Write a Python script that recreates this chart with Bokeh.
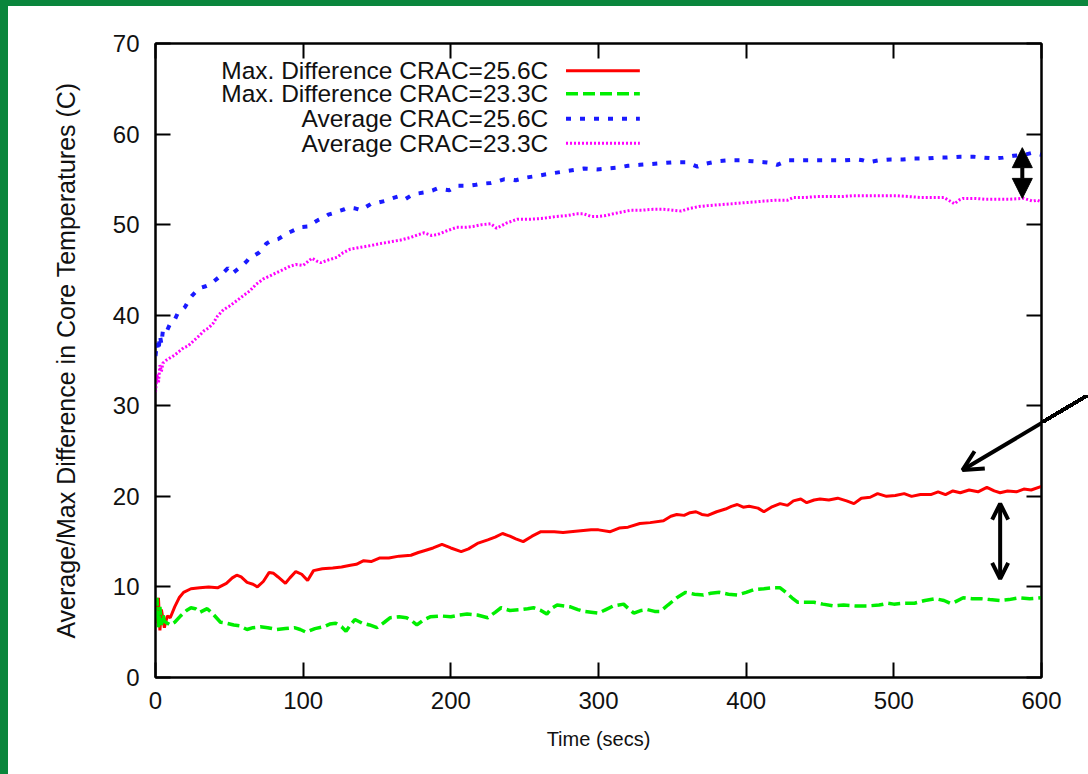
from bokeh.plotting import figure
from bokeh.models import (Range1d, FixedTicker, LinearAxis, Arrow, OpenHead, NormalHead,
                          CustomJSTickFormatter, InlineStyleSheet)
from bokeh.core.properties import value
from bokeh.embed import file_html
from bokeh.resources import INLINE

# ---------------- data ----------------
red_t = [0, 1, 2, 3, 4, 5, 6, 8, 10, 13, 16, 19, 24, 30, 36, 42, 48, 52, 55, 58, 62, 66, 69, 73, 77, 80, 83, 88, 91, 95, 99,
         103, 107, 113, 120, 126, 132, 136, 141, 146, 152, 158, 165, 173, 178, 182, 188, 194, 200, 207, 212, 218, 225, 230,
         235, 240, 244, 249, 255, 261, 270, 276, 281, 288, 295, 300, 308, 314, 320, 328, 335, 344, 349, 353, 358, 362, 366,
         370, 374, 380, 386, 390, 394, 398, 402, 408, 412, 417, 423, 428, 432, 437, 441, 446, 450, 456, 462, 468, 473, 478,
         484, 489, 495, 501, 507, 512, 518, 525, 530, 535, 540, 545, 551, 557, 563, 568, 572, 577, 583, 588, 593, 600]
red_v = [8.5, 6.0, 8.8, 5.2, 7.5, 6.5, 5.5, 6.8, 6.6, 7.8, 8.8, 9.4, 9.8, 9.9, 10.0, 9.9, 10.4, 11.0, 11.3, 11.1, 10.5, 10.3,
         10.0, 10.6, 11.6, 11.5, 11.1, 10.4, 11.0, 11.7, 11.4, 10.7, 11.8, 12.0, 12.1, 12.2, 12.4, 12.5, 12.9, 12.8, 13.2,
         13.2, 13.4, 13.5, 13.8, 14.0, 14.3, 14.7, 14.3, 13.9, 14.2, 14.8, 15.2, 15.5, 15.9, 15.6, 15.3, 15.0, 15.6, 16.1,
         16.1, 16.0, 16.1, 16.2, 16.3, 16.3, 16.1, 16.5, 16.6, 17.0, 17.1, 17.3, 17.8, 18.0, 17.9, 18.2, 18.3, 18.0, 17.9,
         18.3, 18.6, 18.9, 19.1, 18.8, 18.9, 18.7, 18.3, 18.8, 19.2, 19.0, 19.5, 19.7, 19.3, 19.6, 19.7, 19.6, 19.8, 19.5,
         19.2, 19.8, 19.9, 20.3, 20.0, 20.1, 20.3, 20.0, 20.2, 20.2, 20.5, 20.2, 20.6, 20.4, 20.7, 20.5, 21.0, 20.6, 20.4,
         20.6, 20.5, 20.8, 20.7, 21.1]

green_t = [0, 1, 2, 3, 4, 5, 6, 8, 10, 13, 17, 21, 24, 27, 30, 35, 39, 44, 48, 53, 57, 62, 66, 71, 76, 82, 88, 94, 98, 102,
           108, 114, 118, 122, 126, 129, 132, 135, 140, 145, 150, 155, 159, 165, 170, 174, 177, 181, 186, 193, 200, 206,
           211, 218, 225, 230, 234, 240, 247, 252, 256, 261, 265, 268, 272, 277, 281, 286, 290, 295, 300, 305, 310, 317,
           321, 324, 329, 333, 338, 342, 347, 353, 359, 365, 371, 376, 382, 388, 394, 400, 405, 412, 418, 423, 427, 431,
           435, 441, 446, 452, 459, 466, 474, 482, 490, 496, 500, 507, 514, 521, 528, 534, 538, 541, 547, 553, 559, 565,
           572, 578, 585, 592, 600]
green_v = [6.5, 8.8, 5.5, 7.8, 5.8, 7.0, 6.2, 6.0, 5.8, 6.1, 6.8, 7.4, 7.7, 7.6, 7.2, 7.6, 7.0, 6.1, 6.0, 5.8, 5.7, 5.3, 5.5,
           5.6, 5.5, 5.3, 5.4, 5.5, 5.3, 5.0, 5.4, 5.6, 5.9, 6.0, 5.6, 5.1, 5.8, 6.4, 6.0, 5.8, 5.5, 6.1, 6.6, 6.7, 6.6,
           6.2, 5.8, 6.3, 6.7, 6.8, 6.7, 6.9, 7.0, 6.9, 6.6, 7.2, 7.7, 7.4, 7.5, 7.6, 7.7, 7.4, 7.0, 7.6, 8.0, 7.9, 7.8,
           7.5, 7.3, 7.2, 7.1, 7.5, 7.9, 8.1, 7.5, 7.1, 7.4, 7.5, 7.3, 7.3, 8.0, 8.8, 9.4, 9.2, 9.1, 9.3, 9.4, 9.2, 9.1,
           9.4, 9.7, 9.8, 9.9, 9.9, 9.4, 8.8, 8.3, 8.3, 8.3, 8.1, 7.9, 8.0, 7.9, 7.9, 8.0, 8.2, 8.1, 8.2, 8.2, 8.5, 8.7,
           8.5, 8.2, 8.3, 8.8, 8.7, 8.7, 8.6, 8.5, 8.6, 8.8, 8.7, 8.8]

blue_t = [0, 1, 2, 3, 4, 5, 7, 10, 13, 15, 18, 20, 23, 25, 28, 30, 34, 37, 40, 43, 46, 49, 52, 55, 59, 62, 64, 67, 70, 73,
          75, 78, 83, 86, 90, 94, 97, 104, 107, 110, 114, 117, 121, 124, 128, 131, 135, 139, 143, 146, 150, 155, 160, 164,
          169, 173, 176, 184, 188, 191, 195, 199, 204, 209, 213, 217, 220, 227, 232, 236, 240, 244, 251, 259, 266, 274,
          282, 290, 299, 306, 313, 320, 328, 336, 344, 352, 360, 364, 367, 372, 381, 388, 396, 404, 412, 417, 421, 428,
          437, 445, 450, 458, 466, 475, 479, 483, 490, 498, 506, 514, 522, 529, 536, 545, 554, 561, 568, 574, 581, 588,
          593, 597, 600]
blue_v = [35.5, 37.0, 36.0, 37.8, 36.8, 38.3, 38.0, 39.1, 39.5, 40.2, 40.6, 40.9, 41.8, 42.2, 42.7, 43.0, 43.2, 43.4, 43.8,
          44.2, 44.7, 45.2, 44.6, 45.0, 45.5, 46.0, 46.4, 46.6, 46.9, 47.4, 47.9, 48.2, 48.4, 48.7, 49.1, 49.4, 49.7, 49.8,
          50.2, 50.5, 50.8, 51.1, 51.3, 51.5, 51.7, 51.9, 51.8, 51.6, 52.0, 52.3, 52.4, 52.6, 52.9, 53.1, 52.8, 53.2, 53.4,
          53.6, 53.8, 54.0, 53.9, 53.8, 54.3, 54.3, 54.3, 54.4, 54.5, 54.6, 54.8, 55.0, 55.0, 54.9, 55.2, 55.4, 55.6, 55.8,
          56.0, 56.2, 56.1, 56.2, 56.3, 56.5, 56.6, 56.7, 56.8, 56.9, 56.9, 56.6, 56.4, 56.7, 57.0, 57.1, 57.1, 57.0, 56.9,
          56.8, 56.6, 57.1, 57.1, 57.1, 57.1, 57.1, 57.1, 57.2, 57.1, 56.9, 57.1, 57.2, 57.2, 57.3, 57.3, 57.4, 57.4, 57.5,
          57.5, 57.4, 57.3, 57.4, 57.6, 57.7, 57.9, 57.8, 57.7]

mag_t = [0, 1, 2, 3, 4, 5, 7, 10, 13, 16, 19, 22, 26, 30, 33, 36, 39, 42, 46, 50, 55, 59, 64, 68, 73, 77, 82, 86, 91, 95,
         100, 103, 106, 109, 112, 117, 123, 127, 132, 139, 146, 152, 159, 166, 173, 178, 182, 187, 191, 197, 204, 210, 215,
         221, 227, 231, 238, 245, 254, 263, 271, 279, 285, 290, 295, 299, 305, 310, 316, 322, 330, 337, 344, 350, 356, 362,
         368, 374, 382, 390, 397, 405, 412, 420, 428, 432, 440, 448, 457, 465, 472, 480, 487, 495, 502, 510, 518, 525, 530,
         534, 538, 541, 544, 547, 555, 562, 570, 578, 588, 594, 597, 600]
mag_v = [31.5, 33.5, 32.5, 34.5, 33.8, 34.7, 35.0, 35.3, 35.6, 36.0, 36.4, 36.6, 37.2, 37.8, 38.3, 38.6, 39.1, 39.9, 40.6,
         41.0, 41.6, 42.1, 42.7, 43.4, 44.0, 44.3, 44.7, 45.0, 45.4, 45.6, 45.5, 45.9, 46.3, 46.0, 45.8, 46.1, 46.4, 46.9,
         47.3, 47.5, 47.7, 47.9, 48.1, 48.3, 48.6, 48.9, 49.1, 48.8, 48.9, 49.3, 49.7, 49.7, 49.8, 50.0, 50.1, 49.6, 50.2,
         50.6, 50.6, 50.7, 50.9, 51.0, 51.2, 51.2, 50.9, 50.9, 51.0, 51.2, 51.4, 51.6, 51.6, 51.7, 51.7, 51.6, 51.5, 51.8,
         52.0, 52.1, 52.2, 52.3, 52.4, 52.5, 52.6, 52.7, 52.7, 53.0, 53.0, 53.1, 53.1, 53.1, 53.2, 53.2, 53.2, 53.2, 53.2,
         53.1, 53.0, 53.0, 53.0, 53.0, 52.6, 52.3, 52.7, 52.9, 52.9, 52.8, 52.8, 52.8, 52.9, 52.6, 52.7, 52.5]

labels = ["Max. Difference CRAC=25.6C", "Max. Difference CRAC=23.3C",
          "Average CRAC=25.6C", "Average CRAC=23.3C"]
x_ticks = [0, 100, 200, 300, 400, 500, 600]
y_ticks = [0, 10, 20, 30, 40, 50, 60, 70]
x_title = "Time (secs)"
y_title = "Average/Max Difference in Core Temperatures (C)"

FONT = "Liberation Sans"
GREEN = "#0a863c"

# ---------------- figure ----------------
p = figure(width=1088, height=774, output_backend="svg", toolbar_location=None,
           x_range=Range1d(0, 600), y_range=Range1d(0, 70),
           min_border_left=155, min_border_right=47, min_border_top=43, min_border_bottom=97)
p.background_fill_color = "white"
p.border_fill_color = None
p.outline_line_color = "black"
p.outline_line_width = 2
p.grid.visible = False
# page decoration: green strips on the left and top edges, and the tail of the
# pointer arrow where it runs past the plot frame towards the page edge
p.stylesheets = [InlineStyleSheet(css=(
    ":host { background: "
    "linear-gradient(to bottom right, transparent calc(50% - 2px), black calc(50% - 2px), "
    "black calc(50% + 2px), transparent calc(50% + 2px)) 1041px 395px / 47px 28px no-repeat, "
    f"linear-gradient({GREEN}, {GREEN}) left top / 8px 100% no-repeat, "
    f"linear-gradient({GREEN}, {GREEN}) left top / 100% 6px no-repeat, white; }}"))]

p.add_layout(LinearAxis(), "above")
p.add_layout(LinearAxis(), "right")

for ax in p.axis:
    ax.axis_line_width = 2
    ax.axis_line_color = "black"
    ax.major_tick_in = 15
    ax.major_tick_out = 0
    ax.major_tick_line_width = 2
    ax.minor_tick_line_color = None
    ax.major_label_text_font = FONT
    ax.major_label_text_font_size = "24px"
    ax.major_label_text_color = "#111111"
    ax.axis_label_text_font = FONT
    ax.axis_label_text_font_style = "normal"
    ax.axis_label_text_color = "#111111"

p.xaxis.ticker = FixedTicker(ticks=x_ticks)
p.yaxis.ticker = FixedTicker(ticks=y_ticks)

for ax in (p.above[0], p.right[0]):
    ax.formatter = CustomJSTickFormatter(code="return ''")
    ax.major_label_standoff = 0

p.below[0].major_label_standoff = 14
p.below[0].axis_label = x_title
p.below[0].axis_label_text_font_size = "20px"
p.below[0].axis_label_standoff = 16

p.left[0].major_label_standoff = 16
p.left[0].axis_label = y_title
p.left[0].axis_label_text_font_size = "25px"
p.left[0].axis_label_standoff = 30

# ---------------- series ----------------
p.line(red_t, red_v, line_color="#ff0000", line_width=3)
p.line(green_t, green_v, line_color="#00ee00", line_width=3.5, line_dash="12 5")
p.line(blue_t, blue_v, line_color="#1a1aff", line_width=4, line_dash="5 9")
p.line(mag_t, mag_v, line_color="#ff00ff", line_width=3, line_dash="2 2")

# ---------------- legend (text right-aligned, sample on the right) ----------------
leg_y = [67.0, 64.45, 61.7, 59.0]
p.text(x=[266] * 4, y=leg_y, text=labels, text_align="right", text_baseline="middle",
       text_font=value(FONT), text_font_size="24.5px", text_color="#111111")
p.line([278, 328], [leg_y[0]] * 2, line_color="#ff0000", line_width=3)
p.line([278, 328], [leg_y[1]] * 2, line_color="#00ee00", line_width=3.5, line_dash="12 5")
p.line([278, 328], [leg_y[2]] * 2, line_color="#1a1aff", line_width=4, line_dash="5 9")
p.line([278, 328], [leg_y[3]] * 2, line_color="#ff00ff", line_width=3, line_dash="2 2")

# ---------------- annotation arrows ----------------
p.add_layout(Arrow(x_start=587, y_start=55.7, x_end=587, y_end=58.5, line_width=4, line_color="black",
                   end=NormalHead(size=20, fill_color="black", line_color="black")))
p.add_layout(Arrow(x_start=587, y_start=55.7, x_end=587, y_end=52.9, line_width=4, line_color="black",
                   end=NormalHead(size=20, fill_color="black", line_color="black")))
p.add_layout(Arrow(x_start=572, y_start=19.2, x_end=572, y_end=10.9, line_width=4, line_color="black",
                   start=OpenHead(size=16, line_width=4, line_color="black"),
                   end=OpenHead(size=16, line_width=4, line_color="black")))
p.add_layout(Arrow(x_start=631, y_start=31.1, x_end=546.5, y_end=22.9, line_width=4, line_color="black",
                   end=OpenHead(size=20, line_width=4, line_color="black")))

open("out.html", "w").write(file_html(p, INLINE))
